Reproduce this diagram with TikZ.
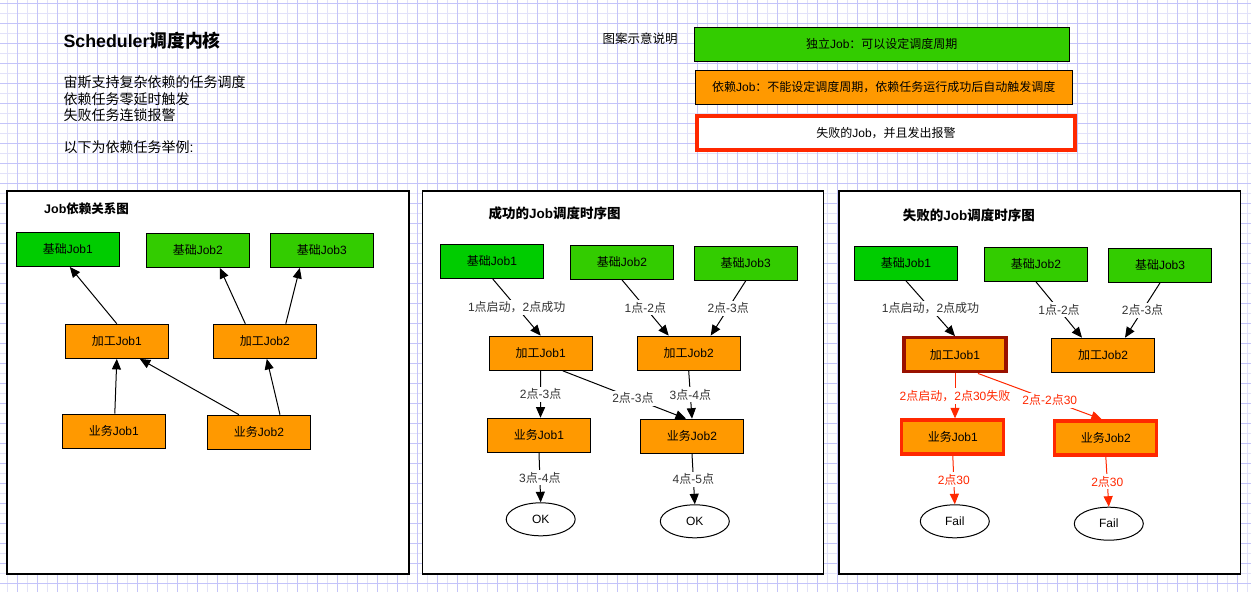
\documentclass[tikz,border=0pt]{standalone}
\usepackage{fontspec}
\setmainfont{Liberation Sans}
\newfontfamily\cjk{Noto Sans CJK SC}
\newcommand\zh[1]{{\cjk #1}}
\usetikzlibrary{arrows.meta,shapes.geometric}
\definecolor{gA}{RGB}{0,204,0}
\definecolor{gB}{RGB}{51,204,0}
\definecolor{org}{RGB}{255,153,0}
\definecolor{redc}{RGB}{255,40,0}
\definecolor{dred}{RGB}{153,17,0}
\definecolor{gridD}{RGB}{196,196,250}
\definecolor{gridL}{RGB}{226,226,250}
\definecolor{lbl}{RGB}{51,51,51}
\begin{document}
\begin{tikzpicture}[x=1pt,y=-1pt,
  job/.style={draw=black,line width=1.2pt,minimum width=103pt,minimum height=34pt,inner sep=0pt,font=\fontsize{12}{14}\selectfont},
  basea/.style={job,fill=gA},
  baseb/.style={job,fill=gB},
  dep/.style={job,fill=org},
  faildep/.style={job,fill=org,draw=redc,line width=3.3pt,minimum width=102pt},
  rootfail/.style={job,fill=org,draw=dred,line width=3.3pt,minimum width=102pt},
  endnode/.style={ellipse,draw=black,line width=1pt,fill=white,minimum width=69pt,minimum height=33pt,inner sep=0pt,font=\fontsize{12}{14}\selectfont},
  arr/.style={draw=black,line width=1pt,-{Triangle[length=10.5pt,width=9pt]}},
  rarr/.style={draw=redc,line width=1pt,-{Triangle[length=10.5pt,width=9pt]}},
  lab/.style={fill=white,inner sep=2pt,text=lbl,font=\fontsize{12}{14}\selectfont},
  rlab/.style={fill=white,inner sep=2pt,text=redc,font=\fontsize{12}{14}\selectfont},
  panel/.style={draw=black,line width=1.2pt,fill=white},
  ptitle/.style={anchor=west,inner sep=0pt,font=\bfseries\fontsize{13.5}{16}\selectfont},
  txt/.style={anchor=west,inner sep=0pt,font=\fontsize{14}{16}\selectfont}
]
\useasboundingbox (0,0) rectangle (1251,592);
\fill[white] (0,0) rectangle (1251,592);
% grid
\foreach \x in {7,27,...,1251} \draw[gridL,line width=1pt] (\x,0) -- (\x,592);
\foreach \y in {13,33,...,592} \draw[gridL,line width=1pt] (0,\y) -- (1251,\y);
\foreach \x in {17,37,...,1251} \draw[gridD,line width=1pt] (\x,0) -- (\x,592);
\foreach \y in {3,23,...,592} \draw[gridD,line width=1pt] (0,\y) -- (1251,\y);

% header text
\node[anchor=west,inner sep=0pt,font=\bfseries\fontsize{17.8}{20}\selectfont] (title) at (63.3,40.7) {Scheduler\zh{调度内核}};
\node[txt] (t1) at (63.3,82.7) {\zh{宙斯支持复杂依赖的任务调度}};
\node[txt] (t2) at (63.3,99.3) {\zh{依赖任务零延时触发}};
\node[txt] (t3) at (63.3,115) {\zh{失败任务连锁报警}};
\node[txt] (t4) at (63.3,146.7) {\zh{以下为依赖任务举例}:};

% legend
\node[anchor=west,inner sep=0pt,font=\fontsize{12.5}{15}\selectfont] (lgt) at (602.3,38.3) {\zh{图案示意说明}};
\node[job,fill=gB,minimum width=375pt] (lg1) at (881.8,44.3) {\zh{独立}Job\zh{：可以设定调度周期}};
\node[job,fill=org,minimum width=377pt] (lg2) at (883.8,87.3) {\zh{依赖}Job\zh{：不能设定调度周期，依赖任务运行成功后自动触发调度}};
\node[job,fill=white,draw=redc,line width=3.3pt,minimum width=378pt] (lg3) at (886,133) {\zh{失败的}Job\zh{，并且发出报警}};

% panels
\draw[panel] (7,191) rectangle (409,574);
\draw[panel] (422.7,191) rectangle (823.7,574);
\draw[panel] (839,191) rectangle (1240.3,574);
\node[ptitle,font=\bfseries\fontsize{12.5}{15}\selectfont] (pt1) at (44,209) {Job\zh{依赖关系图}};
\node[ptitle] (pt2) at (488.3,213.3) {\zh{成功的}Job\zh{调度时序图}};
\node[ptitle] (pt3) at (902.7,215) {\zh{失败的}Job\zh{调度时序图}};

% ---------- panel 1
\node[basea] (b1a) at (67.8,249.3) {\zh{基础}Job1};
\node[baseb] (b1b) at (197.8,250.3) {\zh{基础}Job2};
\node[baseb] (b1c) at (321.8,250.3) {\zh{基础}Job3};
\node[dep] (p1a) at (116.8,341.3) {\zh{加工}Job1};
\node[dep] (p1b) at (264.8,341.3) {\zh{加工}Job2};
\node[dep] (y1a) at (113.8,431.3) {\zh{业务}Job1};
\node[dep] (y1b) at (259,432.3) {\zh{业务}Job2};
\draw[arr] (p1a.north) -- ([xshift=2pt]b1a.south);
\draw[arr] ([xshift=-19.5pt]p1b.north) -- ([xshift=22pt]b1b.south);
\draw[arr] ([xshift=21pt]p1b.north) -- ([xshift=-22pt]b1c.south);
\draw[arr] ([xshift=1pt]y1a.north) -- (p1a.south);
\draw[arr] ([xshift=-20pt]y1b.north) -- ([xshift=23pt]p1a.south);
\draw[arr] ([xshift=21pt]y1b.north) -- ([xshift=2pt]p1b.south);

% ---------- panel 2
\node[basea] (b2a) at (492,261.3) {\zh{基础}Job1};
\node[baseb] (b2b) at (622,262.3) {\zh{基础}Job2};
\node[baseb] (b2c) at (745.7,263.3) {\zh{基础}Job3};
\node[dep] (p2a) at (540.7,353.2) {\zh{加工}Job1};
\node[dep] (p2b) at (688.7,353.2) {\zh{加工}Job2};
\node[dep] (y2a) at (539,435.3) {\zh{业务}Job1};
\node[dep] (y2b) at (692,436.3) {\zh{业务}Job2};
\node[endnode] (ok2a) at (540.7,519.3) {OK};
\node[endnode] (ok2b) at (694.8,521.3) {OK};
\draw[arr] ([xshift=0.7pt]b2a.south) -- node[lab]{1\zh{点启动，}2\zh{点成功}} (p2a.north);
\draw[arr] (b2b.south) -- node[lab]{1\zh{点}-2\zh{点}} ([xshift=-20pt]p2b.north);
\draw[arr] (b2c.south) -- node[lab]{2\zh{点}-3\zh{点}} ([xshift=22pt]p2b.north);
\draw[arr] (p2a.south) -- node[lab]{2\zh{点}-3\zh{点}} ([xshift=1.5pt]y2a.north);
\draw[arr] ([xshift=22pt]p2a.south) -- node[lab,pos=0.57]{2\zh{点}-3\zh{点}} ([xshift=-6pt]y2b.north);
\draw[arr] (p2b.south) -- node[lab]{3\zh{点}-4\zh{点}} (y2b.north);
\draw[arr] (y2a.south) -- node[lab]{3\zh{点}-4\zh{点}} (ok2a.north);
\draw[arr] (y2b.south) -- node[lab]{4\zh{点}-5\zh{点}} (ok2b.north);

% ---------- panel 3
\node[basea] (b3a) at (906,263.3) {\zh{基础}Job1};
\node[baseb] (b3b) at (1036,264.3) {\zh{基础}Job2};
\node[baseb] (b3c) at (1160,265.3) {\zh{基础}Job3};
\node[rootfail] (p3a) at (955,354.8) {\zh{加工}Job1};
\node[dep] (p3b) at (1103,355.3) {\zh{加工}Job2};
\node[faildep] (y3a) at (952.8,437) {\zh{业务}Job1};
\node[faildep] (y3b) at (1105.8,438) {\zh{业务}Job2};
\node[endnode] (f3a) at (954.8,521.3) {Fail};
\node[endnode] (f3b) at (1108.8,523.7) {Fail};
\draw[arr] (b3a.south) -- node[lab]{1\zh{点启动，}2\zh{点成功}} (p3a.north);
\draw[arr] (b3b.south) -- node[lab]{1\zh{点}-2\zh{点}} ([xshift=-21pt]p3b.north);
\draw[arr] (b3c.south) -- node[lab]{2\zh{点}-3\zh{点}} ([xshift=22pt]p3b.north);
\draw[rarr] (p3a.south) -- node[rlab]{2\zh{点启动，}2\zh{点}30\zh{失败}} ([xshift=2.2pt]y3a.north);
\draw[rarr] ([xshift=23pt]p3a.south) -- node[rlab,pos=0.58]{2\zh{点}-2\zh{点}30} ([xshift=-4pt]y3b.north);
\draw[rarr] (y3a.south) -- node[rlab]{2\zh{点}30} (f3a.north);
\draw[rarr] (y3b.south) -- node[rlab]{2\zh{点}30} (f3b.north);
\end{tikzpicture}
\end{document}
